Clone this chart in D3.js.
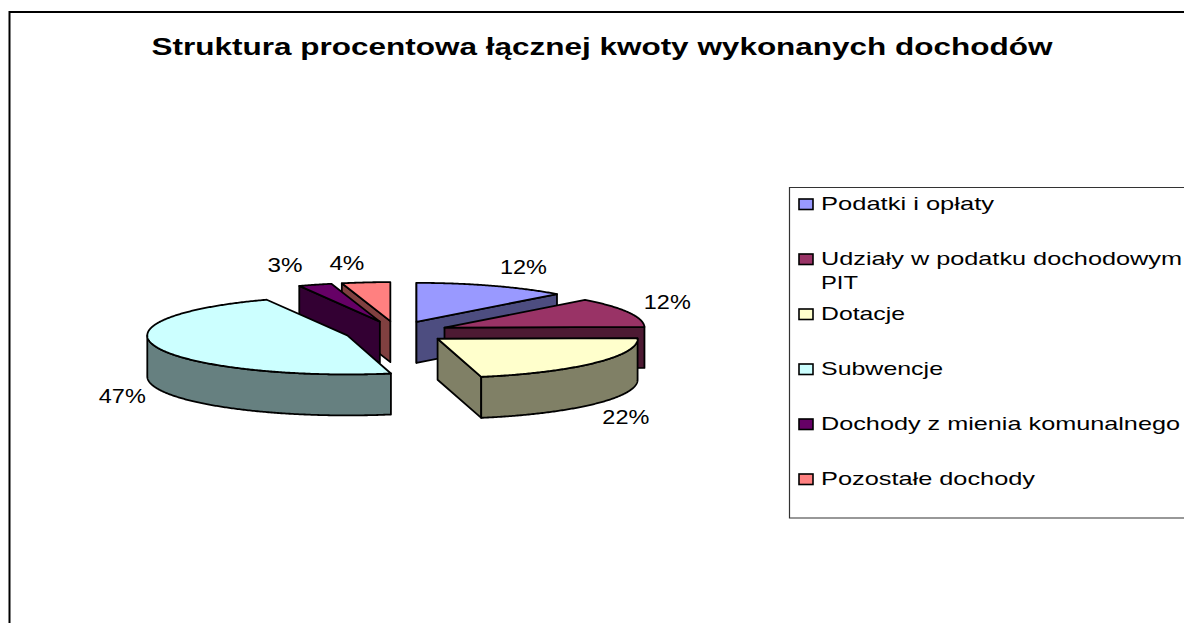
<!DOCTYPE html>
<html>
<head>
<meta charset="utf-8">
<script src="https://cdn.jsdelivr.net/npm/d3@7"></script>
<style>
  html, body { margin: 0; padding: 0; background: #fff; overflow: hidden; }
  text { font-family: "Liberation Sans", Arial, sans-serif; fill: #000; }
</style>
</head>
<body>
<div id="chart"></div>
<script>
const WIDTH = 1184, HEIGHT = 623;

const categories = ["Podatki i opłaty", "Udziały w podatku dochodowym", "Dotacje", "Subwencje", "Dochody z mienia komunalnego", "Pozostałe dochody"];
const values = [12.4, 12.3, 21.8, 46.9, 2.7, 3.9];
const colors = ["#9999FF", "#993366", "#FFFFCC", "#CCFFFF", "#660066", "#FF8080"];
const titleText = "Struktura procentowa łącznej kwoty wykonanych dochodów";

// pie geometry
const CX = 396.7, CY = 332, RX = 200, RY = 39, DEPTH = 41, EXPLODE = 52;
// label baseline offset from the middle of each slice's rim
const LABEL_OFFSET = [[31, -12], [39, -3], [31, 61], [-35, 55], [-30, -13], [-19, -12]];

const svg = d3.select("#chart")
    .append("svg")
    .attr("width", WIDTH)
    .attr("height", HEIGHT)
    .attr("viewBox", `0 0 ${WIDTH} ${HEIGHT}`)
    .style("display", "block");

// Frame
svg.append("path")
    .attr("d", `M9.5,${HEIGHT} V12 H${WIDTH}`)
    .attr("fill", "none")
    .attr("stroke", "#000")
    .attr("stroke-width", 2);

// Title
svg.append("text")
    .attr("x", 602)
    .attr("y", 54.5)
    .attr("text-anchor", "middle")
    .attr("textLength", 901)
    .attr("lengthAdjust", "spacingAndGlyphs")
    .style("font-size", "23.5px")
    .style("font-weight", "bold")
    .text(titleText);

const slices = d3.pie().sort(null)(values).map((s, i) => {
    const mid = (s.startAngle + s.endAngle) / 2;
    return {
        ...s, i, mid,
        ax: CX + EXPLODE * Math.sin(mid),
        ay: CY - EXPLODE * (RY / RX) * Math.cos(mid) * 1.08
    };
});

const point = (d, a, z = 0) => [d.ax + RX * Math.sin(a), d.ay - RY * Math.cos(a) + z];
const darker = c => { const r = d3.rgb(c); return d3.rgb(r.r / 2, r.g / 2, r.b / 2).formatHex(); };

// sample the arc between two angles, one point per half degree
function arcPoints(d, a0, a1, z = 0) {
    const n = Math.max(1, Math.ceil((a1 - a0) / (Math.PI / 360)));
    return d3.range(n + 1).map(k => point(d, a0 + (a1 - a0) * k / n, z));
}

const line = d3.line();
const pieG = svg.append("g").attr("stroke", "#000").attr("stroke-width", 1.8).attr("stroke-linejoin", "round");

// back slices first
slices.slice().sort((a, b) => Math.cos(b.mid) - Math.cos(a.mid)).forEach(d => {
    const g = pieG.append("g");
    const wall = darker(colors[d.i]);

    // Radial walls, only the ones facing the viewer
    const walls = [];
    if (Math.sin(d.startAngle) <= 0) walls.push(d.startAngle);
    if (Math.sin(d.endAngle) >= 0) walls.push(d.endAngle);
    walls.forEach(a => {
        const p = point(d, a);
        g.append("path")
            .attr("d", line([[d.ax, d.ay], p, [p[0], p[1] + DEPTH], [d.ax, d.ay + DEPTH]]) + "Z")
            .attr("fill", wall);
    });

    // Outer rim, only the front half shows
    const r0 = Math.max(d.startAngle, Math.PI / 2), r1 = Math.min(d.endAngle, 3 * Math.PI / 2);
    if (r1 > r0) {
        g.append("path")
            .attr("d", line(arcPoints(d, r0, r1).concat(arcPoints(d, r0, r1, DEPTH).reverse())) + "Z")
            .attr("fill", wall);
    }

    // Top face
    g.append("path")
        .attr("d", line([[d.ax, d.ay]].concat(arcPoints(d, d.startAngle, d.endAngle))) + "Z")
        .attr("fill", colors[d.i]);
});

// Percent labels
svg.selectAll("text.label")
    .data(slices)
    .join("text")
    .attr("class", "label")
    .attr("x", d => point(d, d.mid)[0] + LABEL_OFFSET[d.i][0])
    .attr("y", d => point(d, d.mid)[1] + LABEL_OFFSET[d.i][1])
    .attr("text-anchor", "middle")
    .attr("textLength", d => values[d.i] < 9.5 ? 35 : 47)
    .attr("lengthAdjust", "spacingAndGlyphs")
    .style("font-size", "20px")
    .text(d => `${Math.round(values[d.i])}%`);

// Legend
const legend = svg.append("g").attr("class", "legend");
legend.append("path")
    .attr("d", `M${WIDTH},187.5 H789.5 V518 H${WIDTH}`)
    .attr("fill", "none")
    .attr("stroke", "#333")
    .attr("stroke-width", 1.2);

const legendY = d3.scalePoint().domain(d3.range(categories.length)).range([204, 479]);
const legendWidths = [173, 361, 84, 122, 359, 214];

const rows = legend.selectAll("g.row")
    .data(categories)
    .join("g")
    .attr("class", "row")
    .attr("transform", (d, i) => `translate(0,${legendY(i)})`);

rows.append("rect")
    .attr("x", 799)
    .attr("y", -5)
    .attr("width", 14)
    .attr("height", 10.5)
    .attr("fill", (d, i) => colors[i])
    .attr("stroke", "#000")
    .attr("stroke-width", 1.6);

rows.append("text")
    .attr("x", 821)
    .attr("y", 6)
    .attr("textLength", (d, i) => legendWidths[i])
    .attr("lengthAdjust", "spacingAndGlyphs")
    .style("font-size", "19px")
    .text(d => d);

legend.append("text")
    .attr("x", 821)
    .attr("y", legendY(1) + 30)
    .attr("textLength", 37)
    .attr("lengthAdjust", "spacingAndGlyphs")
    .style("font-size", "19px")
    .text("PIT");
</script>
</body>
</html>
